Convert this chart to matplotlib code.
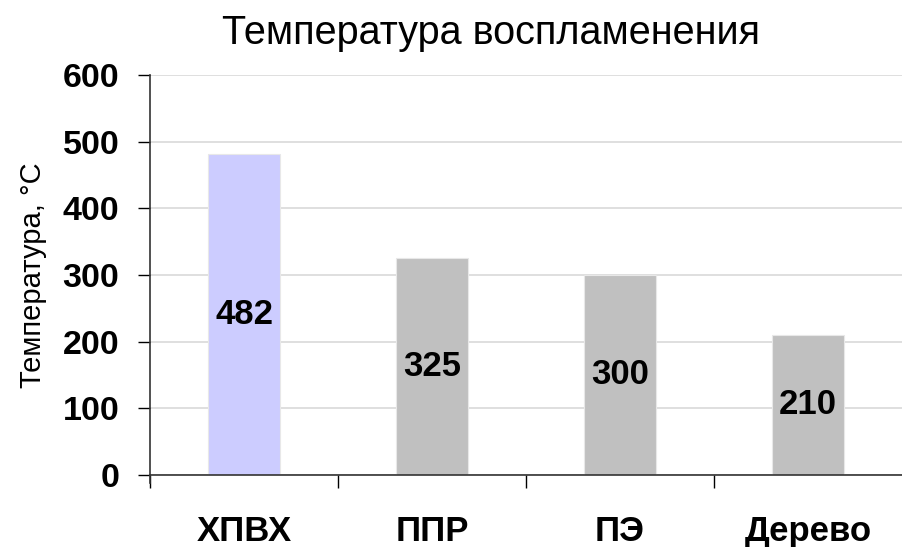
import matplotlib
matplotlib.use("Agg")
import matplotlib.pyplot as plt

plt.rcParams['font.family'] = ['Liberation Sans', 'DejaVu Sans']

categories = ['ХПВХ', 'ППР', 'ПЭ', 'Дерево']
values = [482, 325, 300, 210]
colors = ['#CCCCFF', '#C0C0C0', '#C0C0C0', '#C0C0C0']

fig = plt.figure(figsize=(9.02, 5.47), dpi=100)
ax = fig.add_axes([150/902, 1-475/547, 752/902, 400/547])

x = list(range(len(categories)))
ax.bar(x, values, width=0.38, color=colors, edgecolor='#E8E8E8', linewidth=0.8, zorder=2)
for xi, v in zip(x, values):
    ax.text(xi, v/2, str(v), ha='center', va='center', fontsize=25, fontweight='bold', zorder=3)

ax.set_xlim(-0.5, 3.5)
ax.set_ylim(0, 600)
ax.set_yticks(range(0, 601, 100))
ax.yaxis.grid(True, color='#D9D9D9', linewidth=1.2, zorder=0)
ax.set_axisbelow(True)

# major ticks between categories, names on minor ticks
ax.set_xticks([-0.5, 0.5, 1.5, 2.5])
ax.set_xticklabels([])
ax.set_xticks(x, minor=True)
ax.set_xticklabels(categories, minor=True, fontsize=25, fontweight='bold')
ax.tick_params(axis='x', which='minor', length=0, pad=29)
ax.tick_params(axis='x', which='major', length=9, width=1, direction='out')
ax.tick_params(axis='y', length=9, width=1, direction='out', pad=13, labelsize=24.5)
for t in ax.get_yticklabels():
    t.set_fontweight('bold')

for s in ['top', 'right']:
    ax.spines[s].set_visible(False)
ax.spines['left'].set_bounds(-12, 600)
ax.spines['left'].set_linewidth(1.2)
ax.spines['bottom'].set_linewidth(1.2)
ax.spines['left'].set_color('#333333')
ax.spines['bottom'].set_color('#333333')

ax.set_ylabel('Температура, °С', fontsize=21, labelpad=11)
fig.text(491/902, 1-33/547, 'Температура воспламенения', ha='center', va='center', fontsize=28.5)

fig.savefig('out.png', dpi=100)
